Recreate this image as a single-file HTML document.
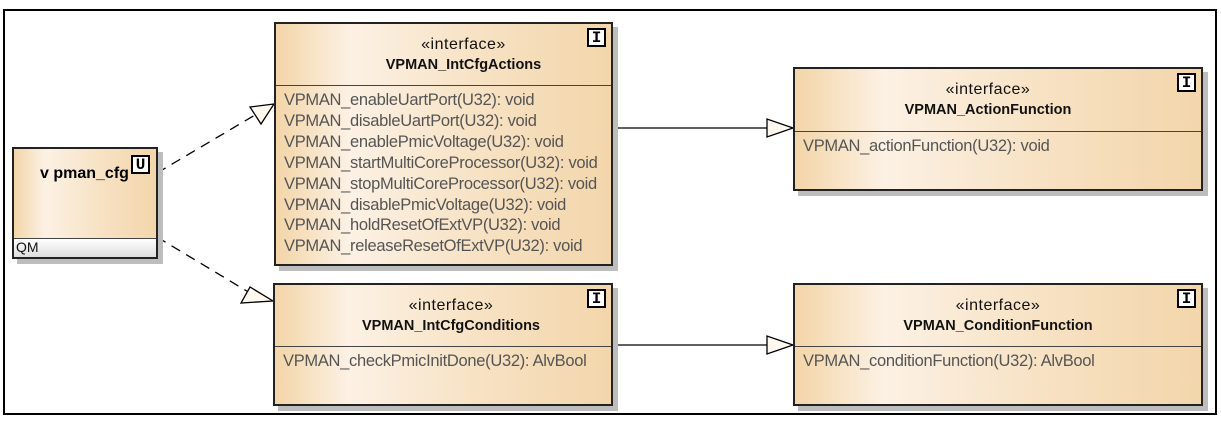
<!DOCTYPE html>
<html><head><meta charset="utf-8"><style>
body{margin:0;width:1221px;height:429px;background:#fff;position:relative;font-family:"Liberation Sans",sans-serif;overflow:hidden}
.frame{position:absolute;left:3px;top:9px;width:1210px;height:402px;border:2px solid #000}
.box{position:absolute;border:2px solid #222;box-sizing:border-box;background:linear-gradient(90deg,#f3d5a8 0%,#fcf1e4 22%,#f7e2c4 60%,#f3d6ab 100%);box-shadow:5px 5px 0 #bdbdbd}
.hd{text-align:center;font-size:16px;color:#111;border-bottom:1px solid #444;box-sizing:border-box}
.st{padding-top:11px;line-height:20px;letter-spacing:0.5px}
.nm{font-weight:bold;line-height:20px;font-size:14.5px}
.ops{padding:4px 0 0 8px;font-size:16.5px;color:#555;line-height:21px;white-space:nowrap;letter-spacing:-0.3px}
.ic{position:absolute;right:5px;top:4px;width:19px;height:19px;border:2px solid #000;background:#fff;font-weight:bold;font-size:16px;font-family:"Liberation Mono",monospace;text-align:center;line-height:16px;box-sizing:border-box}
</style></head><body>
<div class="frame"></div>
<svg style="position:absolute;left:0;top:0" width="1221" height="429">
<g stroke="#000" stroke-width="1.3" fill="none">
<line x1="157" y1="173" x2="255" y2="115" stroke-dasharray="10,7"/>
<line x1="157" y1="237" x2="250" y2="293" stroke-dasharray="10,7"/>
<line x1="612" y1="128" x2="767" y2="128"/>
<line x1="612" y1="345" x2="767" y2="345"/>
</g>
<g stroke="#000" stroke-width="1.3" fill="#fff8ee">
<polygon points="274,104 250,107 261,124"/>
<polygon points="273,301 250,287 241,303"/>
<polygon points="793,128 767,119 767,137"/>
<polygon points="793,345 767,336 767,354"/>
</g>
</svg>
<div class="box" style="left:12px;top:147px;width:146px;height:112px">
<div style="position:absolute;left:26px;top:16px;font-weight:bold;font-size:16px">v pman_cfg</div>
<div class="ic" style="left:117px;right:auto;top:6px">U</div>
<div style="position:absolute;left:0;right:0;top:89px;bottom:0;background:linear-gradient(#fff,#ddd);border-top:1px solid #444;font-size:14px;padding-left:2px;color:#111">QM</div>
</div>
<div class="box" style="left:274px;top:22px;width:339px;height:244px">
<div class="hd" style="height:62px;padding-left:40px"><div class="st">«interface»</div><div class="nm">VPMAN_IntCfgActions</div></div>
<div class="ic">I</div>
<div class="ops" style="line-height:20.9px">VPMAN_enableUartPort(U32): void<br>VPMAN_disableUartPort(U32): void<br>VPMAN_enablePmicVoltage(U32): void<br>VPMAN_startMultiCoreProcessor(U32): void<br>VPMAN_stopMultiCoreProcessor(U32): void<br>VPMAN_disablePmicVoltage(U32): void<br>VPMAN_holdResetOfExtVP(U32): void<br>VPMAN_releaseResetOfExtVP(U32): void</div>
</div>
<div class="box" style="left:793px;top:67px;width:410px;height:124px">
<div class="hd" style="height:63px;padding-right:20px"><div class="st">«interface»</div><div class="nm">VPMAN_ActionFunction</div></div>
<div class="ic">I</div>
<div class="ops">VPMAN_actionFunction(U32): void</div>
</div>
<div class="box" style="left:273px;top:283px;width:340px;height:123px">
<div class="hd" style="height:62px;padding-left:16px"><div class="st">«interface»</div><div class="nm">VPMAN_IntCfgConditions</div></div>
<div class="ic">I</div>
<div class="ops">VPMAN_checkPmicInitDone(U32): AlvBool</div>
</div>
<div class="box" style="left:793px;top:283px;width:410px;height:123px">
<div class="hd" style="height:62px"><div class="st">«interface»</div><div class="nm">VPMAN_ConditionFunction</div></div>
<div class="ic">I</div>
<div class="ops">VPMAN_conditionFunction(U32): AlvBool</div>
</div>
</body></html>
